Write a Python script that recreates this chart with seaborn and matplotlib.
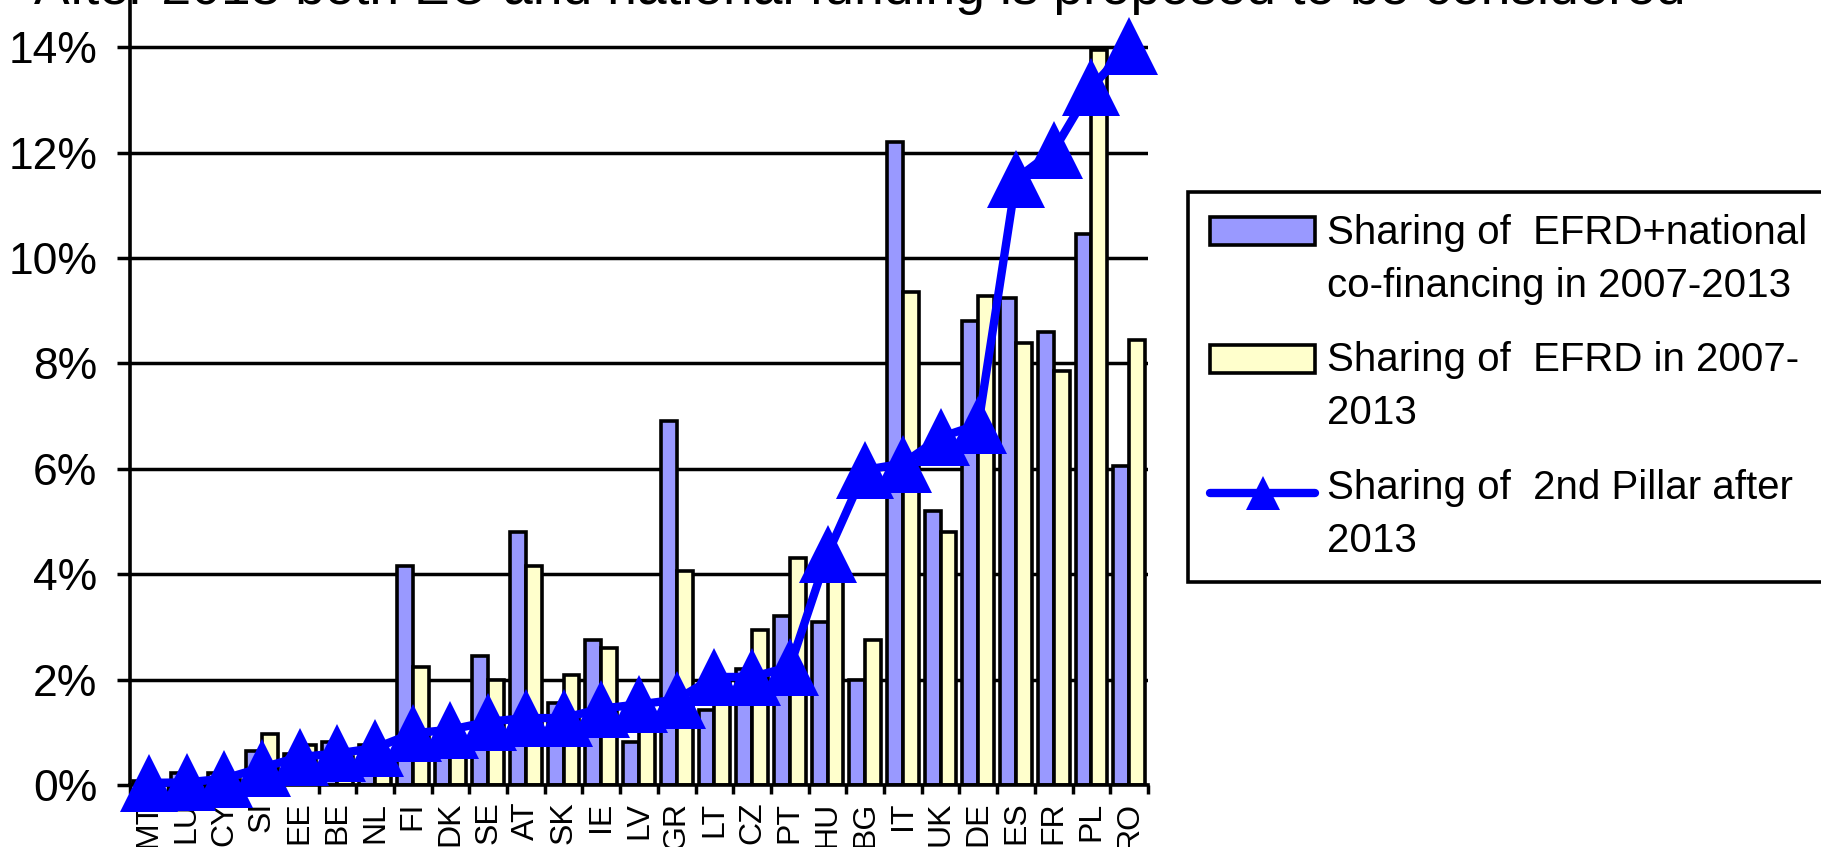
import numpy as np
import pandas as pd
import matplotlib
matplotlib.use("Agg")
import matplotlib.pyplot as plt
from matplotlib.patches import Patch
from matplotlib.lines import Line2D
from matplotlib.transforms import Affine2D
from matplotlib.legend_handler import HandlerPatch, HandlerLine2D
from matplotlib.ticker import PercentFormatter
import seaborn as sns

# Member states, ordered by their share of the 2nd pillar after 2013
countries = ["MT", "LU", "CY", "SI", "EE", "BE", "NL", "FI", "DK", "SE", "AT",
             "SK", "IE", "LV", "GR", "LT", "CZ", "PT", "HU", "BG", "IT", "UK",
             "DE", "ES", "FR", "PL", "RO"]

# Shares in percent
efrd_national = [0.08, 0.22, 0.22, 0.65, 0.59, 0.81, 0.75, 4.15, 0.95, 2.45, 4.81,
                 1.55, 2.75, 0.81, 6.9, 1.42, 2.2, 3.2, 3.1, 2.0, 12.2, 5.2,
                 8.8, 9.25, 8.6, 10.45, 6.05]
efrd = [0.02, 0.1, 0.1, 0.97, 0.75, 0.53, 0.59, 2.23, 0.59, 2.0, 4.15,
        2.08, 2.6, 1.1, 4.07, 1.95, 2.95, 4.3, 4.15, 2.75, 9.35, 4.8,
        9.27, 8.39, 7.86, 13.95, 8.45]
pillar2 = [0.04, 0.05, 0.12, 0.33, 0.53, 0.6, 0.7, 0.98, 1.05, 1.2, 1.27,
           1.27, 1.45, 1.53, 1.62, 2.05, 2.05, 2.24, 4.38, 5.98, 6.1, 6.6,
           6.84, 11.5, 12.04, 13.24, 14.02]

series_labels = ["Sharing of  EFRD+national\nco-financing in 2007-2013",
                 "Sharing of  EFRD in 2007-\n2013",
                 "Sharing of  2nd Pillar after\n2013"]
y_ticks = [0, 2, 4, 6, 8, 10, 12, 14]
title = "After 2013 both EU and national funding is proposed to be considered"

BAR_BLUE = "#9999FF"
BAR_YELLOW = "#FFFFCC"
LINE_BLUE = "#0000FF"

sns.set_style("white")
plt.rcParams["font.family"] = ["Liberation Sans", "DejaVu Sans"]
for key in ("text.color", "axes.labelcolor", "xtick.color", "ytick.color"):
    plt.rcParams[key] = "black"


class _RaisedPatch(HandlerPatch):
    """Legend patch lifted to sit beside the first line of a two-line label."""
    def __init__(self, shift, **kw):
        super().__init__(**kw)
        self.shift = shift

    def create_artists(self, legend, orig_handle, xdescent, ydescent,
                       width, height, fontsize, trans):
        arts = super().create_artists(legend, orig_handle, xdescent, ydescent,
                                      width, height, fontsize, trans)
        t = Affine2D().translate(0, self.shift) + trans
        for a in arts:
            a.set_transform(t)
        return arts


class _RaisedLine(HandlerLine2D):
    def __init__(self, shift, **kw):
        super().__init__(**kw)
        self.shift = shift

    def create_artists(self, legend, orig_handle, xdescent, ydescent,
                       width, height, fontsize, trans):
        arts = super().create_artists(legend, orig_handle, xdescent, ydescent,
                                      width, height, fontsize, trans)
        t = Affine2D().translate(0, self.shift) + trans
        for a in arts:
            a.set_transform(t)
        return arts


W, H = 1821, 847
fig = plt.figure(figsize=(W / 100, H / 100), dpi=100)

# plot area in pixels: x 130..1148, y baseline 785, 52.7 px per percent
px_per = 52.7
y_top = 16
ax_h = px_per * y_top
ax = fig.add_axes([130 / W, (H - 785) / H, 1018 / W, ax_h / H])

bars = pd.DataFrame({
    "country": countries * 2,
    "share": efrd_national + efrd,
    "series": [series_labels[0]] * len(countries) + [series_labels[1]] * len(countries),
})

sns.barplot(data=bars, x="country", y="share", hue="series", order=countries,
            hue_order=series_labels[:2], palette=[BAR_BLUE, BAR_YELLOW],
            width=0.84, saturation=1, edgecolor="black", linewidth=2.6,
            errorbar=None, legend=False, ax=ax)

sns.pointplot(x=countries, y=pillar2, order=countries, color=LINE_BLUE,
              markers="^", linewidth=6, markersize=42, markeredgewidth=0,
              errorbar=None, ax=ax)
for ln in ax.lines:
    ln.set_clip_on(False)
    ln.set_zorder(5)

ax.set_xlim(-0.5, len(countries) - 0.5)
ax.set_ylim(0, y_top)
ax.set_xlabel("")
ax.set_ylabel("")

ax.set_yticks(y_ticks)
ax.yaxis.set_major_formatter(PercentFormatter(decimals=0))
ax.yaxis.grid(True, color="black", linewidth=2.5)
ax.xaxis.grid(False)
ax.set_axisbelow(True)

ax.set_xticks(range(len(countries)))
ax.set_xticklabels(countries, rotation=90, va="top", ha="center")
ax.set_xticks(np.arange(-0.5, len(countries), 1), minor=True)

ax.tick_params(axis="y", which="major", labelsize=32, length=9.4, width=2.5,
               color="black", labelcolor="black", pad=14, left=True)
ax.tick_params(axis="x", which="major", labelsize=23, length=0, pad=12,
               labelcolor="black")
ax.tick_params(axis="x", which="minor", length=6.5, width=2.5, color="black",
               bottom=True)

for side in ("top", "right"):
    ax.spines[side].set_visible(False)
for side in ("left", "bottom"):
    ax.spines[side].set_visible(True)
    ax.spines[side].set_color("black")
    ax.spines[side].set_linewidth(2.6)

handles = [
    Patch(facecolor=BAR_BLUE, edgecolor="black", linewidth=2.6),
    Patch(facecolor=BAR_YELLOW, edgecolor="black", linewidth=2.6),
    Line2D([], [], color=LINE_BLUE, linewidth=6, marker="^", markersize=24,
           markeredgewidth=0),
]
leg = fig.legend(handles, series_labels, loc="upper left",
                 bbox_to_anchor=(1188 / W, 1 - 192 / H),
                 bbox_transform=fig.transFigure, fontsize=29,
                 frameon=True, fancybox=False, shadow=False, framealpha=1,
                 edgecolor="black", handlelength=2.6, handleheight=0.7,
                 handletextpad=0.3, labelspacing=0.9, borderpad=0.55,
                 borderaxespad=0,
                 handler_map={handles[0]: _RaisedPatch(21),
                              handles[1]: _RaisedPatch(21),
                              handles[2]: _RaisedLine(16)})
leg.get_frame().set_linewidth(2.6)
for t in leg.get_texts():
    t.set_linespacing(1.5)
    t.set_color("black")

fig.text(34 / W, 1 - 4 / H, title, fontsize=38.4, ha="left", va="baseline",
         color="black")

fig.savefig("out.png", dpi=100)
